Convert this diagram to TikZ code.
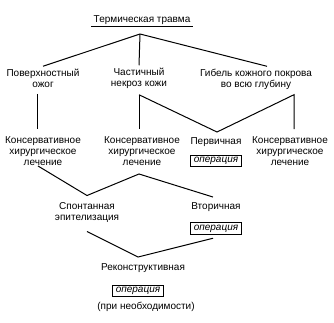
\documentclass[tikz,border=0pt]{standalone}
\usepackage{fontspec}
\setmainfont{Liberation Sans}
\usepackage{tikz}
\usetikzlibrary{positioning,calc}
\newcommand{\labfont}{\fontsize{10}{11}\selectfont}

\begin{document}
\begin{tikzpicture}[x=1pt, y=-1pt, line width=1pt, font=\labfont,
  lab/.style={align=center, inner sep=0pt, outer sep=2.5pt},
  opbox/.style={draw, line width=1.2pt, inner xsep=3pt, inner ysep=2pt,
    outer sep=0pt, font=\labfont\itshape}]

\useasboundingbox (0,0) rectangle (334,322);

\node[lab] (title) at (142,20) {Термическая травма};
\coordinate (top) at (140,34);

\node[lab] (pov) at (43,78) {Поверхностный\\ожог};
\node[lab] (chast) at (139,78) {Частичный\\некроз кожи};
\node[lab] (gib) at (256,79) {Гибель кожного покрова\\во всю глубину};

\node[lab] (kons1) at (43,151) {Консервативное\\хирургическое\\лечение};
\node[lab] (kons2) at (142,151) {Консервативное\\хирургическое\\лечение};
\node[lab] (perv) at (216,142) {Первичная};
\node[opbox] (op1) at (216,161) {операция};
\node[lab] (kons3) at (290,151) {Консервативное\\хирургическое\\лечение};
\coordinate (v1) at (217,132);

\node[lab] (spont) at (87,212) {Спонтанная\\эпителизация};
\node[lab] (vtor) at (216,207) {Вторичная};
\node[opbox] (op2) at (216,228.5) {операция};

\node[lab] (rekon) at (143,268) {Реконструктивная};
\node[opbox] (op3) at (138,291) {операция};
\node[lab] (neobh) at (146,307) {(при необходимости)};

% underline of the title
\draw[double, double distance=0.7pt, line width=0.6pt] (title.south west) -- (title.south east);

% first level
\draw (top) -- (pov.north);
\draw (top) -- (chast.north);
\draw (top) -- ([xshift=11pt]gib.north);

% second level
\draw ([xshift=-6pt,yshift=-4pt]pov.south) -- ([xshift=-6pt,yshift=5pt]kons1.north);
\draw ([yshift=-4pt]chast.south) -- ([xshift=-3pt,yshift=5pt]kons2.north);
\draw ([yshift=-4pt]chast.south) -- (v1) -- ([xshift=38pt,yshift=-3pt]gib.south)
  -- ([xshift=4pt,yshift=5pt]kons3.north);

% third level
\draw ([xshift=-5pt,yshift=2pt]kons1.south) -- ([yshift=4pt]spont.north)
  -- ([xshift=-3pt,yshift=-6pt]kons2.south) -- ([xshift=-3pt,yshift=3pt]vtor.north);
\draw ([yshift=-7pt]spont.south) -- ([xshift=-5pt,yshift=4pt]rekon.north)
  -- ([xshift=-3pt,yshift=-4pt]op2.south);

\end{tikzpicture}
\end{document}
